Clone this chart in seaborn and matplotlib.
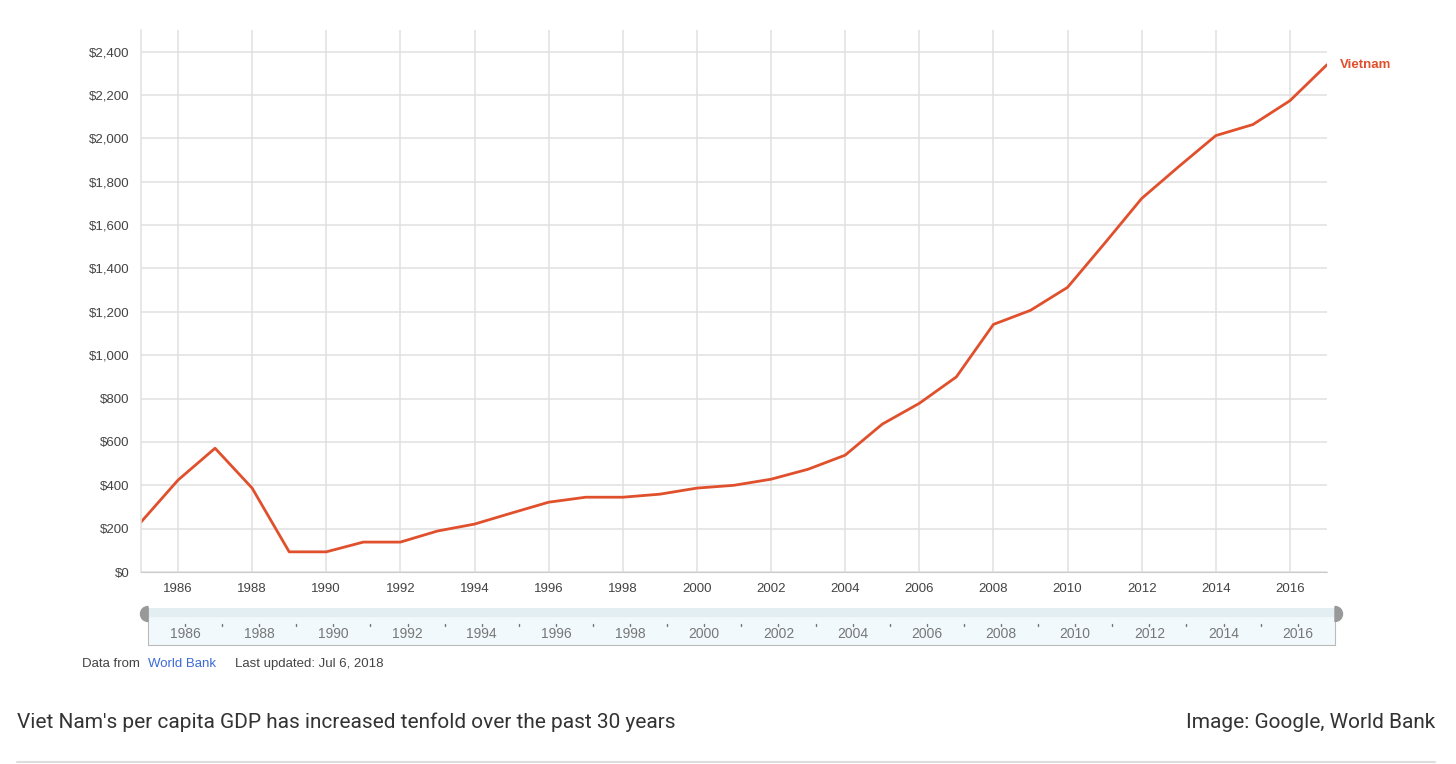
import numpy as np
import pandas as pd
import matplotlib.pyplot as plt
import seaborn as sns
from matplotlib.patches import Wedge

years = list(range(1985, 2018))
gdp = [230, 424, 571, 387, 93, 93, 138, 138, 189, 221, 272, 322, 345, 345,
       359, 387, 400, 428, 474, 539, 682, 778, 900, 1142, 1207, 1313, 1516,
       1723, 1870, 2013, 2064, 2174, 2340]
y_ticks = list(range(0, 2600, 200))
x_ticks = list(range(1986, 2018, 2))
series_name = 'Vietnam'

df = pd.DataFrame({'year': years, 'gdp': gdp})

sns.set_style('white')
plt.rcParams['font.family'] = ['Liberation Sans', 'DejaVu Sans']

LINE = '#e0502c'
GRID = '#e0e0e0'
TXT = '#444444'

fig = plt.figure(figsize=(14.56, 7.64), dpi=100)
ax = fig.add_axes([0.0968, 0.2513, 0.8146, 0.7094])

sns.lineplot(data=df, x='year', y='gdp', ax=ax, color=LINE, linewidth=2.0)

ax.set_xlim(1985, 2017)
ax.set_ylim(0, 2500)
ax.set_yticks(y_ticks)
ax.set_yticklabels(['${:,}'.format(v) for v in y_ticks])
ax.set_xticks(x_ticks)
ax.set_xticks(list(range(1985, 2018, 2)), minor=True)
ax.grid(True, which='major', color=GRID, linewidth=1.1)
ax.tick_params(axis='both', which='major', labelsize=9.5, colors=TXT, length=0, pad=8)
ax.tick_params(axis='x', which='minor', length=4, color='#cccccc', direction='in')
ax.tick_params(axis='x', which='major', length=0)
ax.set_xlabel('')
ax.set_ylabel('')
for s in ['top', 'right']:
    ax.spines[s].set_visible(False)
ax.spines['left'].set_color(GRID)
ax.spines['bottom'].set_color('#cccccc')
ax.spines['left'].set_linewidth(1.1)

ax.text(df['year'].iloc[-1] + 0.35, df['gdp'].iloc[-1], series_name,
        color=LINE, fontsize=9.5, fontweight='bold', va='center', ha='left')

# range navigator under the chart
nav = fig.add_axes([0.1016, 0.1558, 0.8152, 0.0484])
nav.set_xlim(1985, 2017)
nav.set_ylim(0, 1)
nav.axhspan(0, 1, color='#f1f9fc', zorder=0)
nav.axhspan(0.78, 1, color='#e3eef2', zorder=1)
for yr in range(1986, 2017):
    nav.plot([yr, yr], [0.5, 0.58], color='#777777', linewidth=1)
for yr in x_ticks:
    nav.text(yr, 0.3, str(yr), ha='center', va='center', fontsize=10, color='#777777')
nav.set_xticks([])
nav.set_yticks([])
for s in nav.spines.values():
    s.set_visible(False)
for s in ['bottom', 'left', 'right']:
    nav.spines[s].set_visible(True)
    nav.spines[s].set_color('#bbbbbb')

# the two grey handles (drawn in inches so they stay round)
fig.patches.append(Wedge((1.48, (764 - 614) / 100), 0.075, 90, 270,
                         transform=fig.dpi_scale_trans, color='#999999'))
fig.patches.append(Wedge((13.35, (764 - 614) / 100), 0.075, 270, 90,
                         transform=fig.dpi_scale_trans, color='#999999'))

fig.text(82 / 1456, 1 - 664 / 764, 'Data from ', fontsize=9.5, color=TXT, va='center')
fig.text(148 / 1456, 1 - 664 / 764, 'World Bank', fontsize=9.5, color='#3d6bd6', va='center')
fig.text(235 / 1456, 1 - 664 / 764, 'Last updated: Jul 6, 2018', fontsize=9.5, color=TXT, va='center')

fig.text(17 / 1456, 1 - 722 / 764, "Viet Nam's per capita GDP has increased tenfold over the past 30 years",
         fontsize=15, color='#333333', va='center', family=['Roboto', 'DejaVu Sans'])
fig.text(1435 / 1456, 1 - 722 / 764, 'Image: Google, World Bank',
         fontsize=15, color='#333333', va='center', ha='right', family=['Roboto', 'DejaVu Sans'])
fig.add_artist(plt.Line2D([17 / 1456, 1435 / 1456], [1 - 762 / 764] * 2,
                          transform=fig.transFigure, color='#dddddd', linewidth=1.5))

fig.savefig('out.png', dpi=100)
